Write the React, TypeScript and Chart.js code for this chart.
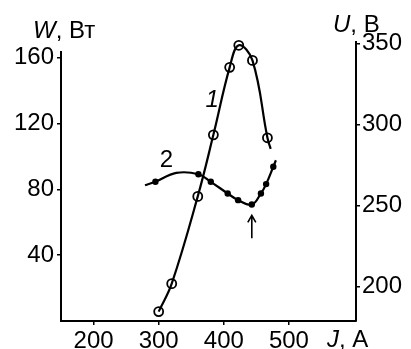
import React, { useEffect, useRef } from "react";
import { Chart, registerables } from "chart.js";

Chart.register(...registerables);

// ---- axes ----
const J_MIN = 150;
const J_MAX = 603;
const W_MIN = 0;
const W_MAX = 169.5;
const U_MIN = 178.8;
const U_MAX = 351;
const J_TICKS = [200, 300, 400, 500];
const W_TICKS = [40, 80, 120, 160];
const U_TICKS = [200, 250, 300, 350];
const W_AXIS_TOP = 164;

// ---- curve 1: W (Вт) vs J (А), open circles ----
const W_J = [300, 320, 360, 384, 409, 423, 444, 467];
const W_VAL = [5.7, 22.7, 75.7, 113.1, 154.1, 167.5, 158.3, 111.3];
// points read along curve 1 without a marker
const W_TRACE_J = [472];
const W_TRACE_VAL = [104.6];

// ---- curve 2: U (В) vs J (А), filled dots ----
const U_J = [295, 361, 380, 406, 422, 443, 457, 465, 476];
const U_VAL = [264.7, 269.4, 264.7, 257.5, 253.4, 250.7, 257.5, 263.3, 274];
// points read along curve 2 without a marker
const U_TRACE_J = [279, 327, 480];
const U_TRACE_VAL = [262.6, 270.2, 278];

// ---- annotations (data coordinates) ----
const LABEL1_J = 382;
const LABEL1_W = 134;
const LABEL2_J = 312;
const LABEL2_U = 277.7;
const ARROW_J = 443;
const ARROW_U_TIP = 244;
const ARROW_U_TAIL = 229.8;

const FONT = '"Liberation Sans", Arial, sans-serif';
const FS = 24;

function merge(xs: number[], ys: number[], tx: number[], ty: number[]) {
  const pts = xs.map((x, i) => ({ x, y: ys[i] })).concat(tx.map((x, i) => ({ x, y: ty[i] })));
  pts.sort((a, b) => a.x - b.x);
  return pts;
}

const overlay = {
  id: "overlay",
  afterDraw(chart: any) {
    const ctx = chart.ctx as CanvasRenderingContext2D;
    const ca = chart.chartArea;
    const sx = chart.scales.x;
    const sw = chart.scales.yW;
    const su = chart.scales.yU;
    ctx.save();
    ctx.strokeStyle = "#000";
    ctx.fillStyle = "#000";
    // left axis line (shorter than chart area)
    ctx.lineWidth = 2;
    ctx.beginPath();
    ctx.moveTo(ca.left, sw.getPixelForValue(W_AXIS_TOP));
    ctx.lineTo(ca.left, ca.bottom + 1);
    ctx.stroke();

    const drawTitle = (it: string, rest: string, x: number, y: number) => {
      ctx.textAlign = "left";
      ctx.textBaseline = "alphabetic";
      ctx.font = `italic ${FS}px ${FONT}`;
      ctx.fillText(it, x, y);
      const w = ctx.measureText(it).width;
      ctx.font = `${FS}px ${FONT}`;
      ctx.fillText(rest, x + w, y);
    };
    drawTitle("W", ", Вт", ca.left - 28, ca.top - 4);
    drawTitle("U", ", В", ca.right - 23, ca.top - 10);
    drawTitle("J", ", А", ca.right - 29, ca.bottom + 26);

    // curve labels
    ctx.textAlign = "center";
    ctx.textBaseline = "middle";
    ctx.font = `italic ${FS}px ${FONT}`;
    ctx.fillText("1", sx.getPixelForValue(LABEL1_J), sw.getPixelForValue(LABEL1_W));
    ctx.font = `${FS}px ${FONT}`;
    ctx.fillText("2", sx.getPixelForValue(LABEL2_J), su.getPixelForValue(LABEL2_U));

    // arrow
    const ax = sx.getPixelForValue(ARROW_J);
    const tip = su.getPixelForValue(ARROW_U_TIP);
    const tail = su.getPixelForValue(ARROW_U_TAIL);
    ctx.lineWidth = 1.6;
    ctx.beginPath();
    ctx.moveTo(ax, tail);
    ctx.lineTo(ax, tip);
    ctx.moveTo(ax - 4, tip + 7);
    ctx.lineTo(ax, tip);
    ctx.lineTo(ax + 4, tip + 7);
    ctx.stroke();
    ctx.restore();
  },
};

export default function App() {
  const ref = useRef<HTMLCanvasElement | null>(null);
  useEffect(() => {
    if (!ref.current) return;
    const tickFont = { family: FONT, size: FS };
    const chart = new Chart(ref.current, {
      type: "scatter",
      data: {
        datasets: [
          {
            label: "W line",
            data: merge(W_J, W_VAL, W_TRACE_J, W_TRACE_VAL),
            showLine: true,
            borderColor: "#000",
            borderWidth: 2.2,
            tension: 0.4,
            pointRadius: 0,
            yAxisID: "yW",
            clip: false,
          } as any,
          {
            label: "U line",
            data: merge(U_J, U_VAL, U_TRACE_J, U_TRACE_VAL),
            showLine: true,
            borderColor: "#000",
            borderWidth: 2.2,
            tension: 0.4,
            pointRadius: 0,
            yAxisID: "yU",
            clip: false,
          } as any,
          {
            label: "W",
            data: W_J.map((x, i) => ({ x, y: W_VAL[i] })),
            showLine: false,
            pointRadius: 4.5,
            pointBorderWidth: 1.8,
            pointBorderColor: "#000",
            pointBackgroundColor: "#fff",
            yAxisID: "yW",
            clip: false,
          } as any,
          {
            label: "U",
            data: U_J.map((x, i) => ({ x, y: U_VAL[i] })),
            showLine: false,
            pointRadius: 3.2,
            pointBorderWidth: 0,
            pointBackgroundColor: "#000",
            yAxisID: "yU",
            clip: false,
          } as any,
        ],
      },
      options: {
        animation: false,
        responsive: false,
        events: [],
        layout: { padding: { top: 42, left: 0, right: 0, bottom: 0 } },
        plugins: { legend: { display: false }, tooltip: { enabled: false } },
        scales: {
          x: {
            type: "linear",
            min: J_MIN,
            max: J_MAX,
            afterBuildTicks: (s: any) => {
              s.ticks = J_TICKS.map((v) => ({ value: v }));
            },
            afterFit: (s: any) => {
              s.height = 28;
            },
            grid: { display: true, drawOnChartArea: false, drawTicks: true, tickLength: 4, color: "#000", lineWidth: 1.5 },
            border: { display: true, color: "#000", width: 2 },
            ticks: { font: tickFont, color: "#000", padding: 2, maxRotation: 0 },
          },
          yW: {
            type: "linear",
            position: "left",
            min: W_MIN,
            max: W_MAX,
            afterBuildTicks: (s: any) => {
              s.ticks = W_TICKS.map((v) => ({ value: v }));
            },
            afterFit: (s: any) => {
              s.width = 61;
            },
            grid: { display: true, drawOnChartArea: false, drawTicks: true, tickLength: 4, color: "#000", lineWidth: 1.5 },
            border: { display: false },
            ticks: { font: tickFont, color: "#000", padding: 3 },
          },
          yU: {
            type: "linear",
            position: "right",
            min: U_MIN,
            max: U_MAX,
            afterBuildTicks: (s: any) => {
              s.ticks = U_TICKS.map((v) => ({ value: v }));
            },
            afterFit: (s: any) => {
              s.width = 55;
            },
            grid: { display: true, drawOnChartArea: false, drawTicks: true, tickLength: 4, color: "#000", lineWidth: 1.5 },
            border: { display: true, color: "#000", width: 2 },
            ticks: { font: tickFont, color: "#000", padding: 2 },
          },
        },
      } as any,
      plugins: [overlay],
    });
    return () => chart.destroy();
  }, []);
  return (
    <div style={{ position: "absolute", left: 0, top: 0, width: 411, height: 349, background: "#fff" }}>
      <canvas ref={ref} width={411} height={349} />
    </div>
  );
}
